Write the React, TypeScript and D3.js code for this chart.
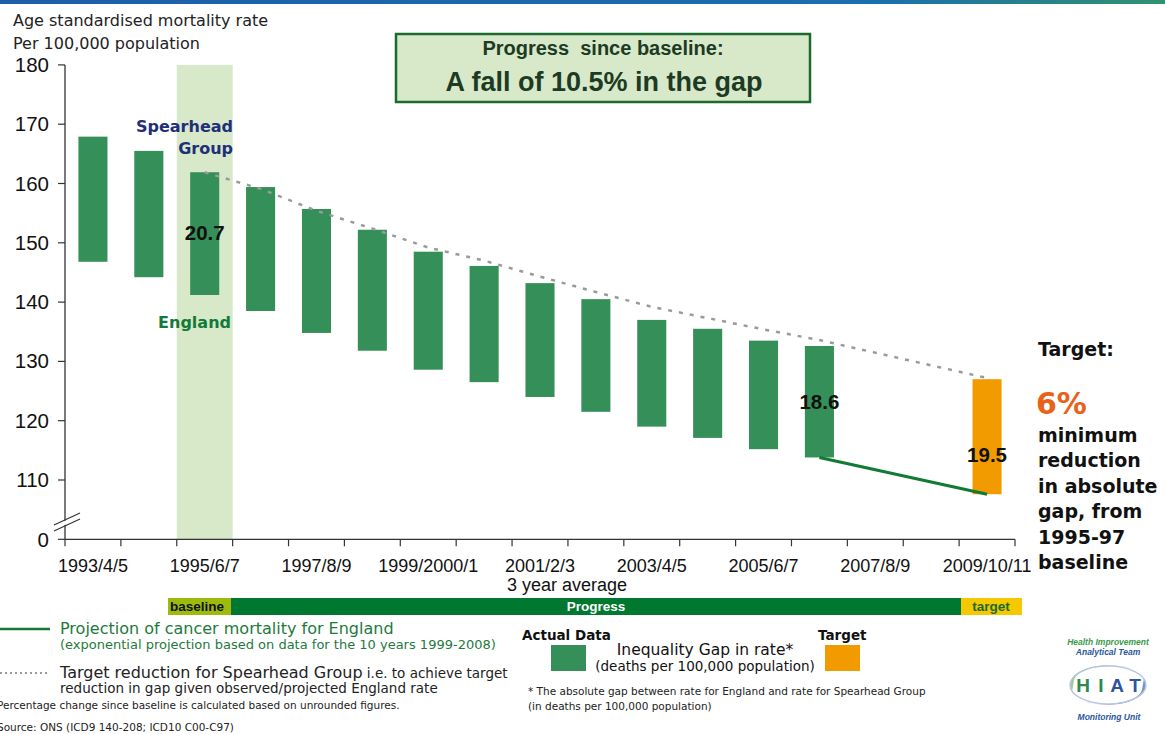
import React from "react";
import * as d3 from "d3";

const categories = ["1993/4/5","1994/5/6","1995/6/7","1996/7/8","1997/8/9","1998/9/2000","1999/2000/1","2000/1/2","2001/2/3","2002/3/4","2003/4/5","2004/5/6","2005/6/7","2006/7/8","2007/8/9","2008/9/10","2009/10/11"];
const tickLabelIdx = [0, 2, 4, 6, 8, 10, 12, 14, 16];
const spearhead = [167.9, 165.5, 161.9, 159.4, 155.7, 152.2, 148.5, 146.1, 143.2, 140.5, 137.0, 135.5, 133.5, 132.6];
const england = [146.8, 144.2, 141.2, 138.5, 134.8, 131.8, 128.6, 126.5, 124.0, 121.5, 119.0, 117.1, 115.2, 113.8];
const targetBar = { cat: "2009/10/11", top: 127.0, bottom: 107.6 };
const targetLine = [
  { cat: "1995/6/7", v: 161.9 }, { cat: "1996/7/8", v: 159.1 }, { cat: "1997/8/9", v: 155.4 },
  { cat: "1998/9/2000", v: 152.4 }, { cat: "1999/2000/1", v: 149.2 }, { cat: "2000/1/2", v: 147.0 },
  { cat: "2001/2/3", v: 144.3 }, { cat: "2002/3/4", v: 141.7 }, { cat: "2003/4/5", v: 139.2 },
  { cat: "2004/5/6", v: 137.3 }, { cat: "2005/6/7", v: 135.4 }, { cat: "2006/7/8", v: 133.6 },
  { cat: "2009/10/11", v: 127.2 },
];
const projection = [{ cat: "2006/7/8", v: 113.8 }, { cat: "2009/10/11", v: 107.6 }];
const yTicks = [110, 120, 130, 140, 150, 160, 170, 180];
const gapLabels = [{ cat: "1995/6/7", text: "20.7", v: 151.6 }, { cat: "2006/7/8", text: "18.6", v: 123.1 }, { cat: "2009/10/11", text: "19.5", v: 114.3 }];

const W = 1165, H = 734;
const X0 = 65, X1 = 1015;
const x = d3.scaleBand<string>().domain(categories).range([X0, X1]).paddingInner(0.48).paddingOuter(0.24);
const y = d3.scaleLinear().domain([100, 180]).range([539.3, 64.9]);
const step = x.step();
const cx = (c: string) => (x(c) as number) + x.bandwidth() / 2;

const GREEN = "#358f58";
const ORANGE = "#f29b00";
const SANS = "'Liberation Sans', Arial, sans-serif";
const TAH = "'DejaVu Sans', Verdana, sans-serif";

export default function App() {
  const lineGen = d3.line<{ cat: string; v: number }>().x(d => cx(d.cat)).y(d => y(d.v));
  const hl = x("1995/6/7") as number;
  return (
    <svg width={W} height={H} style={{ position: "absolute", left: 0, top: 0, background: "#fff" }}>
      <defs>
        <linearGradient id="topbar" x1="0" x2="1" y1="0" y2="0">
          <stop offset="0" stopColor="#1d5da9" />
          <stop offset="0.75" stopColor="#1a6fae" />
          <stop offset="1" stopColor="#2f9270" />
        </linearGradient>
      </defs>
      <rect x={0} y={0} width={W} height={4} fill="url(#topbar)" />

      {/* y title */}
      <text x={13} y={26} fontFamily={TAH} fontSize={16} fill="#222">Age standardised mortality rate</text>
      <text x={13} y={49} fontFamily={TAH} fontSize={16} fill="#222">Per 100,000 population</text>

      {/* highlight band */}
      <rect x={hl - (step - x.bandwidth()) / 2} y={y(180)} width={step} height={y(100) - y(180)} fill="#d7e9c8" />

      {/* axes */}
      <line x1={X0} x2={X0} y1={y(180)} y2={y(100)} stroke="#333" strokeWidth={1.3} />
      <line x1={X0} x2={X1} y1={y(100)} y2={y(100)} stroke="#333" strokeWidth={1.3} />
      {yTicks.map(t => (
        <g key={t}>
          <line x1={X0 - 7} x2={X0} y1={y(t)} y2={y(t)} stroke="#333" strokeWidth={1.2} />
          <text x={49} y={y(t) + 7} textAnchor="end" fontFamily={SANS} fontSize={20.5} fill="#111">{t}</text>
        </g>
      ))}
      <line x1={X0 - 7} x2={X0} y1={y(100)} y2={y(100)} stroke="#333" strokeWidth={1.2} />
      <text x={49} y={y(100) + 8} textAnchor="end" fontFamily={SANS} fontSize={20.5} fill="#111">0</text>
      {/* axis break */}
      <polygon points={`54,526 80,514 80,518 54,530`} fill="#fff" />
      <line x1={54} y1={525} x2={80} y2={513} stroke="#333" strokeWidth={1.2} />
      <line x1={54} y1={531} x2={80} y2={519} stroke="#333" strokeWidth={1.2} />

      {d3.range(categories.length + 1).map(i => (
        <line key={i} x1={X0 + i * step} x2={X0 + i * step} y1={y(100)} y2={y(100) + 7} stroke="#333" strokeWidth={1.2} />
      ))}
      {tickLabelIdx.map(i => (
        <text key={i} x={cx(categories[i])} y={572} textAnchor="middle" fontFamily={SANS} fontSize={18} fill="#111">{categories[i]}</text>
      ))}
      <text x={567} y={591} textAnchor="middle" fontFamily={SANS} fontSize={18} fill="#111">3 year average</text>

      {/* bars */}
      {spearhead.map((s, i) => (
        <rect key={i} x={x(categories[i]) as number} width={x.bandwidth()} y={y(s)} height={y(england[i]) - y(s)} fill={GREEN} />
      ))}
      <rect x={x(targetBar.cat) as number} width={x.bandwidth()} y={y(targetBar.top)} height={y(targetBar.bottom) - y(targetBar.top)} fill={ORANGE} />

      {/* target dotted line */}
      <path d={lineGen(targetLine) || ""} fill="none" stroke="#9a9a9a" strokeWidth={2.5} strokeDasharray="4 7" />
      {/* projection */}
      <path d={lineGen(projection) || ""} fill="none" stroke="#117a33" strokeWidth={3.2} />

      {gapLabels.map(g => (
        <text key={g.text} x={cx(g.cat)} y={y(g.v) + 7} textAnchor="middle" fontFamily={SANS} fontWeight="bold" fontSize={20.5} fill="#111">{g.text}</text>
      ))}

      <text x={233} y={132} textAnchor="end" fontFamily={TAH} fontWeight="bold" fontSize={16} fill="#1f2f78">Spearhead</text>
      <text x={233} y={154} textAnchor="end" fontFamily={TAH} fontWeight="bold" fontSize={16} fill="#1f2f78">Group</text>
      <text x={231} y={328} textAnchor="end" fontFamily={TAH} fontWeight="bold" fontSize={16} fill="#137a3a">England</text>

      {/* top box */}
      <rect x={396} y={34} width={414} height={68} fill="#d7e9c8" stroke="#1b6b2e" strokeWidth={2.5} />
      <text x={603} y={55} textAnchor="middle" fontFamily={SANS} fontWeight="bold" fontSize={20} fill="#1d3b24" xmlSpace="preserve">Progress  since baseline:</text>
      <text x={604} y={91} textAnchor="middle" fontFamily={SANS} fontWeight="bold" fontSize={27} fill="#1d3b24">A fall of 10.5% in the gap</text>

      {/* right annotation */}
      <text x={1038} y={356} fontFamily={TAH} fontWeight="bold" fontSize={19} fill="#111">Target:</text>
      <text x={1036} y={414} fontFamily={TAH} fontWeight="bold" fontSize={30} fill="#e8621a">6%</text>
      {["minimum", "reduction", "in absolute", "gap, from", "1995-97", "baseline"].map((t, i) => (
        <text key={t} x={1038} y={442 + i * 25.4} fontFamily={TAH} fontWeight="bold" fontSize={19} fill="#111">{t}</text>
      ))}

      {/* bottom phase bar */}
      <rect x={168} y={598} width={63} height={17} fill="#9dbb0c" />
      <rect x={231} y={598} width={730} height={17} fill="#00782f" />
      <rect x={961} y={598} width={61} height={17} fill="#f5c800" />
      <text x={170} y={611} fontFamily={SANS} fontWeight="bold" fontSize={13.5} fill="#111">baseline</text>
      <text x={596} y={611} textAnchor="middle" fontFamily={SANS} fontWeight="bold" fontSize={13.5} fill="#fff">Progress</text>
      <text x={991} y={611} textAnchor="middle" fontFamily={SANS} fontWeight="bold" fontSize={13.5} fill="#1a6b2a">target</text>

      {/* legend left */}
      <line x1={0} x2={50} y1={629} y2={629} stroke="#117a33" strokeWidth={2.5} />
      <text x={60} y={634} fontFamily={TAH} fontSize={16} fill="#1e7a3c">Projection of cancer mortality for England</text>
      <text x={60} y={649} fontFamily={TAH} fontSize={13} fill="#1e7a3c">(exponential projection based on data for the 10 years 1999-2008)</text>
      <line x1={0} x2={50} y1={673} y2={673} stroke="#9a9a9a" strokeWidth={2} strokeDasharray="2 3" />
      <text x={60} y={678} fontFamily={TAH} fontSize={16} fill="#222">Target reduction for Spearhead Group<tspan fontSize={13.5}> i.e. to achieve target</tspan></text>
      <text x={60} y={693} fontFamily={TAH} fontSize={13.5} fill="#222">reduction in gap given observed/projected England rate</text>
      <text x={-3} y={709} fontFamily={TAH} fontSize={10.5} fill="#222">Percentage change since baseline is calculated based on unrounded figures.</text>
      <text x={-3} y={731} fontFamily={TAH} fontSize={10.5} fill="#222">Source: ONS (ICD9 140-208; ICD10 C00-C97)</text>

      {/* legend middle */}
      <text x={522} y={640} fontFamily={TAH} fontWeight="bold" fontSize={13.5} fill="#111">Actual Data</text>
      <rect x={551} y={645} width={35} height={26} fill={GREEN} />
      <text x={705} y={655} textAnchor="middle" fontFamily={TAH} fontSize={15.5} fill="#111">Inequality Gap in rate*</text>
      <text x={705} y={671} textAnchor="middle" fontFamily={TAH} fontSize={13.5} fill="#111">(deaths per 100,000 population)</text>
      <text x={818} y={640} fontFamily={TAH} fontWeight="bold" fontSize={13.5} fill="#111">Target</text>
      <rect x={825} y={645} width={35} height={26} fill={ORANGE} />
      <text x={528} y={695} fontFamily={TAH} fontSize={10.5} fill="#222">* The absolute gap between rate for England and rate for Spearhead Group</text>
      <text x={528} y={710} fontFamily={TAH} fontSize={10.5} fill="#222">(in deaths per 100,000 population)</text>

      {/* logo */}
      <g>
        <text x={1108} y={645} textAnchor="middle" fontFamily={SANS} fontStyle="italic" fontWeight="bold" fontSize={8.5} fill="#3a9a4a">Health Improvement</text>
        <text x={1108} y={655} textAnchor="middle" fontFamily={SANS} fontStyle="italic" fontWeight="bold" fontSize={8.5} fill="#2a55a0">Analytical Team</text>
        <path d="M1072,692 C1062,670 1100,660 1130,668 C1120,664 1080,664 1074,680 Z" fill="#7fbf7f" opacity={0.8} />
        <path d="M1144,678 C1154,700 1116,710 1086,702 C1096,706 1136,706 1142,690 Z" fill="#5577bb" opacity={0.8} />
        <ellipse cx={1108} cy={685} rx={38} ry={19} fill="none" stroke="#b9c6e3" strokeWidth={1.5} />
        <text x={1083} y={692} textAnchor="middle" fontFamily={SANS} fontWeight="bold" fontSize={19} fill="#2e8a4a">H</text>
        <text x={1101} y={692} textAnchor="middle" fontFamily={SANS} fontWeight="bold" fontSize={19} fill="#2e8a4a">I</text>
        <text x={1117} y={692} textAnchor="middle" fontFamily={SANS} fontWeight="bold" fontSize={19} fill="#2a55a0">A</text>
        <text x={1135} y={692} textAnchor="middle" fontFamily={SANS} fontWeight="bold" fontSize={19} fill="#2a55a0">T</text>
        <text x={1109} y={720} textAnchor="middle" fontFamily={SANS} fontStyle="italic" fontWeight="bold" fontSize={8.5} fill="#2a55a0">Monitoring Unit</text>
      </g>
    </svg>
  );
}
